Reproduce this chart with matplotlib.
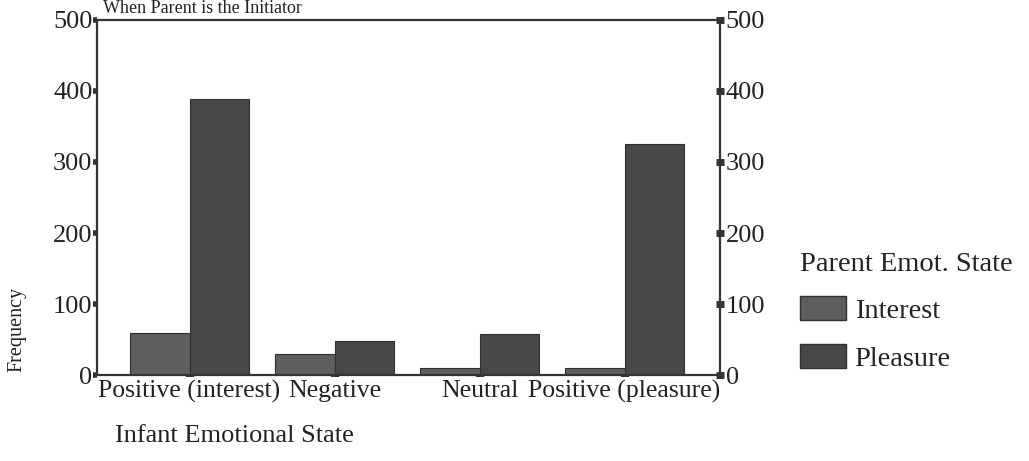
import numpy as np
import matplotlib
matplotlib.use("Agg")
import matplotlib.pyplot as plt
from matplotlib.patches import Patch

# data
categories = ["Positive (interest)", "Negative", "Neutral", "Positive (pleasure)"]
interest = [60, 30, 10, 10]
pleasure = [388, 48, 58, 325]
yticks = [0, 100, 200, 300, 400, 500]

c_interest = "#5e5e5e"
c_pleasure = "#484848"
edge = "#303030"
ink = "#222222"

plt.rcParams["font.family"] = ["Liberation Serif", "DejaVu Serif"]

fig = plt.figure(figsize=(10.29, 4.61), dpi=100)
ax = fig.add_axes([0.094, 0.186, 0.606, 0.771])

x = np.arange(len(categories))
w = 0.41
ax.bar(x - w / 2, interest, w, color=c_interest, edgecolor=edge, linewidth=0.8)
ax.bar(x + w / 2, pleasure, w, color=c_pleasure, edgecolor=edge, linewidth=0.8)

ax.set_xlim(-0.64, 3.66)
ax.set_ylim(0, 500)
ax.set_yticks(yticks)
ax.set_xticks(x)
ax.set_xticklabels(categories, fontsize=18.5, color=ink)
ax.tick_params(axis="y", direction="out", length=3, width=4, color="#333333",
               labelsize=19, labelcolor=ink, pad=0)
ax.tick_params(axis="x", direction="out", length=1.5, width=6, color="#333333",
               pad=2)

for side in ["left", "top", "right", "bottom"]:
    ax.spines[side].set_color("#333333")
    ax.spines[side].set_linewidth(1.6)

ax2 = ax.twinx()
ax2.set_ylim(0, 500)
ax2.set_yticks(yticks)
ax2.tick_params(axis="y", direction="inout", length=6, width=5, color="#333333",
                labelsize=19, labelcolor=ink, pad=1)
for side in ["left", "top", "right", "bottom"]:
    ax2.spines[side].set_visible(False)

fig.text(0.016, 0.285, "Frequency", rotation=90, ha="center", va="center",
         fontsize=14.5, color=ink)
fig.text(0.112, 0.055, "Infant Emotional State", ha="left", va="center",
         fontsize=19, color=ink)
fig.text(0.10, 0.999, "When Parent is the Initiator", ha="left", va="top",
         fontsize=13, color=ink)

handles = [Patch(facecolor=c_interest, edgecolor=edge, label="Interest"),
           Patch(facecolor=c_pleasure, edgecolor=edge, label="Pleasure")]
leg = fig.legend(handles=handles, title="Parent Emot. State", loc="upper left",
                 bbox_to_anchor=(0.753, 0.51), frameon=False, fontsize=20.5,
                 title_fontsize=20.5, handlelength=1.6, handleheight=0.9,
                 handletextpad=0.3, labelspacing=0.7, alignment="left")
for t in leg.get_texts():
    t.set_color(ink)
leg.get_title().set_color(ink)

fig.savefig("out.png", dpi=100)
